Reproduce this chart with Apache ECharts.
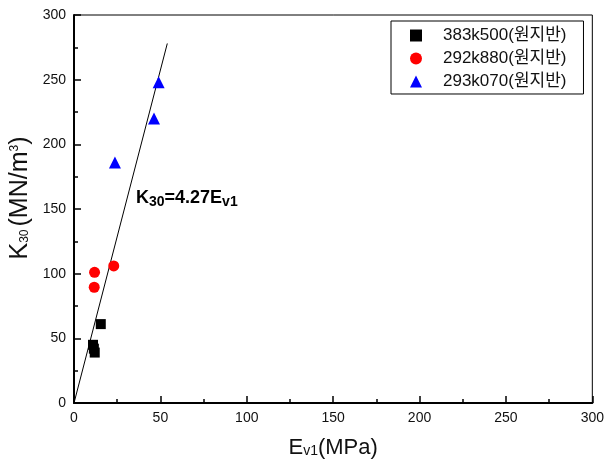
<!DOCTYPE html>
<html>
<head>
<meta charset="utf-8">
<script src="https://cdn.jsdelivr.net/npm/echarts@6/dist/echarts.min.js"></script>
<style>
  html, body { margin: 0; padding: 0; background: #fff; }
  #chart { width: 607px; height: 467px; }
</style>
</head>
<body>
<div id="chart"></div>
<script>
const seriesNames = ['383k500(원지반)', '292k880(원지반)', '293k070(원지반)']
const site383 = [[11, 45], [11.5, 42], [12, 39], [15.5, 61]]
const site292 = [[11.9, 101], [11.7, 89.5], [23, 106]]
const site293 = [[49, 248], [46.3, 220], [23.7, 186]]
const fitLine = [[0, 0], [54, 278]]
const xTicks = [0, 50, 100, 150, 200, 250, 300]
const yTicks = [0, 50, 100, 150, 200, 250, 300]

const font = '"Liberation Sans", Arial, "Noto Sans CJK KR", sans-serif'
const chart = echarts.init(document.getElementById('chart'))

const axisCommon = {
  axisLine: { show: true, onZero: false, lineStyle: { color: '#000', width: 2 } },
  axisTick: { show: true, inside: true, length: 7, lineStyle: { color: '#000', width: 1.5 } },
  minorTick: { show: true, splitNumber: 2, length: 4, lineStyle: { color: '#000', width: 1.5 } },
  splitLine: { show: false },
  axisLabel: { color: '#111', fontSize: 14, fontFamily: font, margin: 8 },
  nameLocation: 'middle',
}

chart.setOption({
  animation: false,
  grid: { left: 74, right: 13, top: 15, bottom: 64, show: true, borderColor: '#000', borderWidth: 1 },
  legend: {
    left: 391, top: 21,
    orient: 'vertical',
    itemGap: 6,
    itemWidth: 12, itemHeight: 12,
    padding: [6, 17, 4, 19],
    borderColor: '#000', borderWidth: 1,
    textStyle: { fontSize: 17, color: '#111', fontFamily: font, padding: [0, 0, 0, 16] },
    data: seriesNames,
  },
  xAxis: {
    ...axisCommon,
    type: 'value',
    min: xTicks[0], max: xTicks[xTicks.length - 1], interval: xTicks[1] - xTicks[0],
    name: '{b|E}{s|v1}{b|(MPa)}',
    nameGap: 34,
    nameTextStyle: {
      fontFamily: font,
      rich: {
        b: { fontSize: 22, color: '#111', fontFamily: font },
        s: { fontSize: 14, color: '#111', fontFamily: font, padding: [7, 0, 0, 0] },
      },
    },
  },
  yAxis: {
    ...axisCommon,
    type: 'value',
    min: yTicks[0], max: yTicks[yTicks.length - 1], interval: yTicks[1] - yTicks[0],
  },
  graphic: [{
    type: 'text',
    left: 136, top: 189,
    style: {
      text: '{b|K}{s|30}{b|=4.27E}{s|v1}',
      fontFamily: font,
      rich: {
        b: { fontSize: 18, fontWeight: 'bold', fill: '#000', fontFamily: font },
        s: { fontSize: 14, fontWeight: 'bold', fill: '#000', fontFamily: font, padding: [8, 0, 0, 0] },
      },
    },
  }, {
    type: 'text',
    x: 20, y: 198,
    rotation: Math.PI / 2,
    style: {
      text: '{b|K}{s|30}{b|(MN/m}{p|3}{b|)}',
      align: 'center', verticalAlign: 'middle',
      fontFamily: font,
      rich: {
        b: { fontSize: 25, fill: '#111', fontFamily: font },
        s: { fontSize: 12, fill: '#111', fontFamily: font, padding: [10, 3, 0, 0] },
        p: { fontSize: 12, fill: '#111', fontFamily: font, padding: [0, 0, 11, 0] },
      },
    },
  }],
  series: [
    {
      type: 'line', data: fitLine, symbol: 'none', silent: true,
      lineStyle: { color: '#000', width: 1 }, z: 1,
    },
    {
      name: seriesNames[0], type: 'scatter', data: site383,
      symbol: 'rect', symbolSize: 10, itemStyle: { color: '#000', opacity: 1 }, z: 3,
    },
    {
      name: seriesNames[1], type: 'scatter', data: site292,
      symbol: 'circle', symbolSize: 11, itemStyle: { color: '#ff0000', opacity: 1 }, z: 3,
    },
    {
      name: seriesNames[2], type: 'scatter', data: site293,
      symbol: 'triangle', symbolSize: 12, itemStyle: { color: '#0000ff', opacity: 1 }, z: 3,
    },
  ],
})
</script>
</body>
</html>
